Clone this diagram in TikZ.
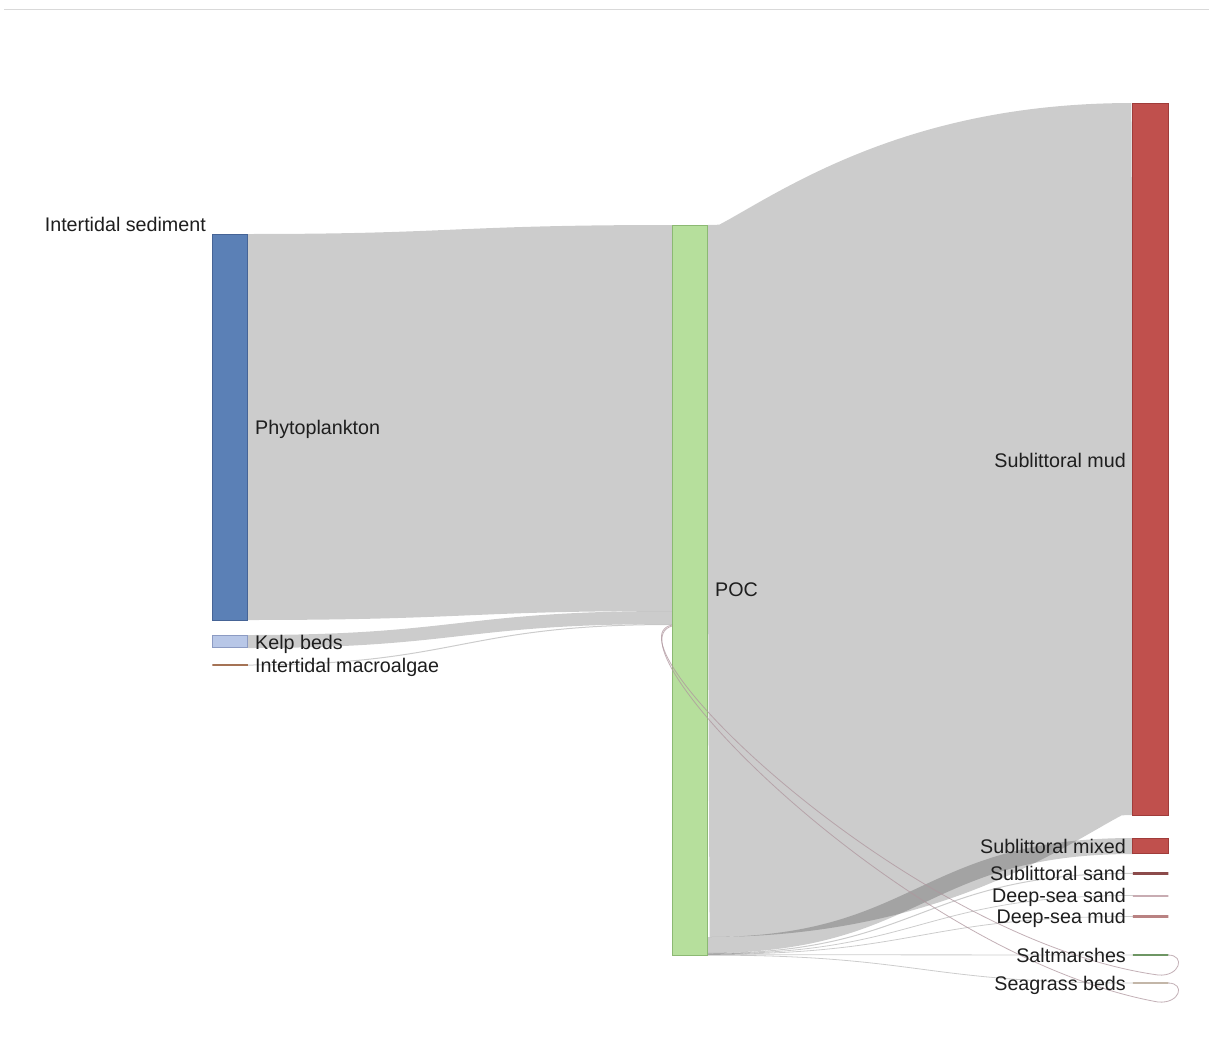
\documentclass[tikz,border=0pt]{standalone}
\usepackage{fontspec}
\setmainfont{Liberation Sans}
\definecolor{phyto}{RGB}{91,128,182}
\definecolor{phytoB}{RGB}{70,100,150}
\definecolor{kelp}{RGB}{184,199,231}
\definecolor{kelpB}{RGB}{140,155,195}
\definecolor{macro}{RGB}{165,115,85}
\definecolor{poc}{RGB}{182,223,156}
\definecolor{pocB}{RGB}{140,185,115}
\definecolor{mud}{RGB}{192,80,77}
\definecolor{mudB}{RGB}{160,60,58}
\definecolor{ssand}{RGB}{140,75,75}
\definecolor{dssand}{RGB}{200,172,178}
\definecolor{dsmud}{RGB}{185,130,130}
\definecolor{salt}{RGB}{110,150,100}
\definecolor{seag}{RGB}{195,182,168}
\definecolor{cycl}{RGB}{175,150,158}
\definecolor{txt}{RGB}{30,30,30}
\begin{document}
\begin{tikzpicture}[x=1pt,y=-1pt,
  box/.style={inner sep=0pt, outer sep=0pt, line width=0.8pt, minimum width=35.5pt},
  thin/.style={inner sep=0pt, outer sep=0pt, minimum width=35.5pt, minimum height=0pt},
  lbl/.style={inner sep=0pt, font=\fontsize{19.7}{22}\selectfont, text=txt},
  flow/.style={draw=black, draw opacity=0.2, line cap=butt},
  cyc/.style={draw=cycl, draw opacity=0.75, line width=0.8pt}]
\useasboundingbox (0,0) rectangle (1209,1041);
\fill[white] (0,0) rectangle (1209,1041);
\draw[color=black!15, line width=1.5pt] (4,9.5) -- (1209,9.5);

% ports of the links
\coordinate (phyto-o) at (248,427);
\coordinate (kelp-o) at (248,641.5);
\coordinate (macro-o) at (248,665);
\coordinate (poc-i1) at (672,418);
\coordinate (poc-i2) at (672,617.5);
\coordinate (poc-i3) at (672,624.5);
\coordinate (poc-i4) at (672,625);
\coordinate (poc-i5) at (672,626);
\coordinate (poc-o1) at (708,581);
\coordinate (poc-o2) at (708,945);
\coordinate (poc-o3) at (708,953.4);
\coordinate (poc-o4) at (708,953.9);
\coordinate (poc-o5) at (708,954.3);
\coordinate (poc-o6) at (708,954.7);
\coordinate (poc-o7) at (708,955.1);
\coordinate (mud-i) at (1133,459);
\coordinate (mix-i) at (1133,846);
\coordinate (ss-i) at (1133,873.3);
\coordinate (dss-i) at (1133,895.5);
\coordinate (dsm-i) at (1133,916.5);
\coordinate (salt-i) at (1133,955);
\coordinate (seag-i) at (1133,983);
\coordinate (salt-o) at (1168,955);
\coordinate (seag-o) at (1168,983);

% links
\draw[flow, line width=386pt] (phyto-o) .. controls +(212,0) and +(-212,0) .. (poc-i1);
\draw[flow, line width=13pt] (kelp-o) .. controls +(212,0) and +(-212,0) .. (poc-i2);
\draw[flow, line width=1pt] (macro-o) .. controls +(212,0) and +(-212,0) .. (poc-i3);
\draw[flow, line width=712pt] (poc-o1) .. controls +(212.5,0) and +(-212.5,0) .. (mud-i);
\draw[flow, line width=16pt] (poc-o2) .. controls +(212.5,0) and +(-212.5,0) .. (mix-i);
\draw[flow, line width=1pt] (poc-o3) .. controls +(212.5,0) and +(-212.5,0) .. (ss-i);
\draw[flow, line width=0.8pt] (poc-o4) .. controls +(212.5,0) and +(-212.5,0) .. (dss-i);
\draw[flow, line width=0.8pt] (poc-o5) .. controls +(212.5,0) and +(-212.5,0) .. (dsm-i);
\draw[flow, line width=0.8pt] (poc-o6) .. controls +(212.5,0) and +(-212.5,0) .. (salt-i);
\draw[flow, line width=0.8pt] (poc-o7) .. controls +(212.5,0) and +(-212.5,0) .. (seag-i);

% nodes
\node[box, fill=phyto, draw=phytoB, minimum height=386pt] (phyto) at (230,427) {};
\node[box, fill=kelp, draw=kelpB, minimum height=12pt] (kelp) at (230,641.5) {};
\node[thin, draw=macro, line width=1.5pt] (macro) at (230,665) {};
\node[box, fill=poc, draw=pocB, minimum height=730pt] (poc) at (690,590) {};
\node[box, fill=mud, draw=mudB, minimum height=712pt] (smud) at (1150.5,459) {};
\node[box, fill=mud, draw=mudB, minimum height=15pt] (smix) at (1150.5,846) {};
\node[thin, draw=ssand, line width=2.5pt] (ssand) at (1150.5,873.3) {};
\node[thin, draw=dssand, line width=2pt] (dssand) at (1150.5,895.5) {};
\node[thin, draw=dsmud, line width=2.5pt] (dsmud) at (1150.5,916.5) {};
\node[thin, draw=salt, line width=1.5pt] (saltm) at (1150.5,955) {};
\node[thin, draw=seag, line width=1.5pt] (seagr) at (1150.5,983) {};

% cyclic links back to POC
\coordinate (salt-b) at (1158,975);
\coordinate (seag-b) at (1158,1002);
\draw[cyc] (salt-o) .. controls +(18,0) and +(22,2) .. (salt-b)
  .. controls +(-250,-35) and +(-72,15) .. (poc-i4);
\draw[cyc] (seag-o) .. controls +(18,0) and +(22,2) .. (seag-b)
  .. controls +(-250,-45) and +(-70,20) .. (poc-i5);

% labels
\node[lbl, anchor=base east] (l-sed) at (206,231.5) {Intertidal sediment};
\node[lbl, anchor=base west] (l-phyto) at (255,434.5) {Phytoplankton};
\node[lbl, anchor=base west] (l-kelp) at (255,649.5) {Kelp beds};
\node[lbl, anchor=base west] (l-macro) at (255,672.5) {Intertidal macroalgae};
\node[lbl, anchor=base west] (l-poc) at (715,596.5) {POC};
\node[lbl, anchor=base east] (l-mud) at (1126,467.5) {Sublittoral mud};
\node[lbl, anchor=base east] (l-mix) at (1126,853) {Sublittoral mixed};
\node[lbl, anchor=base east] (l-ss) at (1126,880.5) {Sublittoral sand};
\node[lbl, anchor=base east] (l-dss) at (1126,902.5) {Deep-sea sand};
\node[lbl, anchor=base east] (l-dsm) at (1126,923.5) {Deep-sea mud};
\node[lbl, anchor=base east] (l-salt) at (1126,962.5) {Saltmarshes};
\node[lbl, anchor=base east] (l-seag) at (1126,990.5) {Seagrass beds};
\end{tikzpicture}
\end{document}
